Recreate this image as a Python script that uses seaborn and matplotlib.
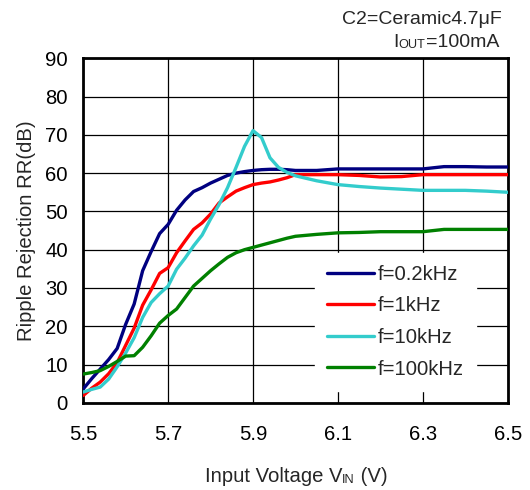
import matplotlib
matplotlib.use('Agg')
import matplotlib.pyplot as plt
import numpy as np
import pandas as pd
import seaborn as sns

# input voltage (V)
vin = [5.50, 5.52, 5.54, 5.56, 5.58, 5.60, 5.62, 5.64, 5.66, 5.68,
       5.70, 5.72, 5.74, 5.76, 5.78, 5.80, 5.82, 5.84, 5.86, 5.88,
       5.90, 5.92, 5.94, 5.96, 5.98, 6.00, 6.05, 6.10, 6.15, 6.20,
       6.25, 6.30, 6.35, 6.40, 6.45, 6.50]

# ripple rejection (dB) per frequency
rr_02k = [3.6, 6.3, 8.8, 11.3, 14.2, 20.5, 25.8, 34.5, 39.5, 44.2,
          46.6, 50.3, 53.0, 55.2, 56.2, 57.4, 58.4, 59.4, 60.0, 60.4,
          60.7, 60.9, 61.0, 61.0, 60.9, 60.7, 60.7, 61.1, 61.1, 61.1,
          61.1, 61.1, 61.7, 61.7, 61.6, 61.6]
rr_1k = [1.9, 3.8, 5.4, 7.6, 10.5, 15.0, 19.5, 25.5, 29.5, 33.8,
         35.3, 39.2, 42.3, 45.3, 47.0, 49.3, 52.2, 53.8, 55.3, 56.2,
         57.0, 57.4, 57.7, 58.2, 58.8, 59.6, 59.6, 59.6, 59.4, 59.0,
         59.1, 59.6, 59.6, 59.6, 59.6, 59.6]
rr_10k = [2.8, 3.5, 4.1, 6.2, 9.4, 13.0, 17.0, 22.3, 26.2, 28.5,
          30.5, 34.9, 37.8, 41.0, 43.8, 48.0, 51.8, 56.2, 61.5, 67.0,
          71.1, 69.3, 64.0, 61.5, 60.2, 59.3, 58.0, 57.0, 56.5, 56.1,
          55.8, 55.5, 55.5, 55.5, 55.3, 55.0]
rr_100k = [7.5, 7.9, 8.4, 9.5, 10.8, 12.2, 12.3, 14.5, 17.5, 20.8,
           22.8, 24.5, 27.5, 30.5, 32.5, 34.5, 36.3, 38.0, 39.2, 40.0,
           40.6, 41.2, 41.8, 42.4, 43.0, 43.5, 44.0, 44.4, 44.5, 44.7,
           44.7, 44.7, 45.3, 45.3, 45.3, 45.3]

labels = ['f=0.2kHz', 'f=1kHz', 'f=10kHz', 'f=100kHz']
colors = ['#000080', '#ff0000', '#33cccc', '#008000']
series = [rr_02k, rr_1k, rr_10k, rr_100k]

x_ticks = [5.5, 5.7, 5.9, 6.1, 6.3, 6.5]
y_ticks = [0, 10, 20, 30, 40, 50, 60, 70, 80, 90]

df = pd.concat([pd.DataFrame({'vin': vin, 'rr': s, 'freq': lab})
                for s, lab in zip(series, labels)], ignore_index=True)

sns.set_style('white')
plt.rcParams['font.family'] = ['Liberation Sans', 'DejaVu Sans']
FS = 14.6
SMALL = 9.2

fig = plt.figure(figsize=(5.3, 4.9), dpi=100)
ax = fig.add_axes([0.157, 0.178, 0.801, 0.703])

sns.lineplot(data=df, x='vin', y='rr', hue='freq', hue_order=labels,
             palette=dict(zip(labels, colors)), linewidth=2.4, ax=ax,
             zorder=3, legend=False)

ax.set_xlim(5.5, 6.5)
ax.set_ylim(0, 90)
ax.set_xticks(x_ticks)
ax.set_xticklabels([f'{t:.1f}' for t in x_ticks])
ax.set_yticks(y_ticks)
ax.grid(True, color='black', linewidth=0.9)
ax.set_axisbelow(True)
ax.tick_params(axis='both', length=0, labelsize=FS, colors='black')
ax.tick_params(axis='x', pad=16)
ax.tick_params(axis='y', pad=11)
for sp in ax.spines.values():
    sp.set_visible(True)
    sp.set_color('black')
    sp.set_linewidth(2)

ax.set_xlabel('')
ax.set_ylabel('Ripple Rejection RR(dB)', fontsize=FS, labelpad=7)

handles = [plt.Line2D([], [], color=c, linewidth=2.4) for c in colors]
leg = ax.legend(handles, labels, loc='lower left', bbox_to_anchor=(0.545, 0.035),
                fontsize=FS, frameon=True, fancybox=False, framealpha=1,
                facecolor='white', edgecolor='white', borderpad=0.6,
                handlelength=2.35, handletextpad=0.15, labelspacing=0.62,
                borderaxespad=0)
leg.set_zorder(4)


def rich_text(parts, x, y, ha):
    # parts: (string, size); small parts sit on the same baseline
    first = fig.text(x, y, parts[0][0], fontsize=parts[0][1], va='bottom', ha='left')
    arts = [first]
    for s, size in parts[1:]:
        arts.append(ax.annotate(s, xy=(1, 0), xycoords=arts[-1], va='bottom', ha='left',
                                fontsize=size, annotation_clip=False))
    fig.canvas.draw()
    r = fig.canvas.get_renderer()
    x0 = arts[0].get_window_extent(r).x0
    x1 = arts[-1].get_window_extent(r).x1
    w = (x1 - x0) / fig.bbox.width
    if ha == 'center':
        first.set_x(x - w / 2)
    elif ha == 'right':
        first.set_x(x - w)
    return arts


rich_text([('C2=Ceramic4.7μF', 14)], 502 / 530, 1 - 28 / 490, 'right')
rich_text([('I', 14), ('OUT', SMALL), ('=100mA', 14)], 499 / 530, 1 - 51 / 490, 'right')
rich_text([('Input Voltage V', FS), ('IN', SMALL), (' (V)', FS)], 296 / 530, 1 - 486 / 490, 'center')

fig.savefig('out.png', dpi=100)
